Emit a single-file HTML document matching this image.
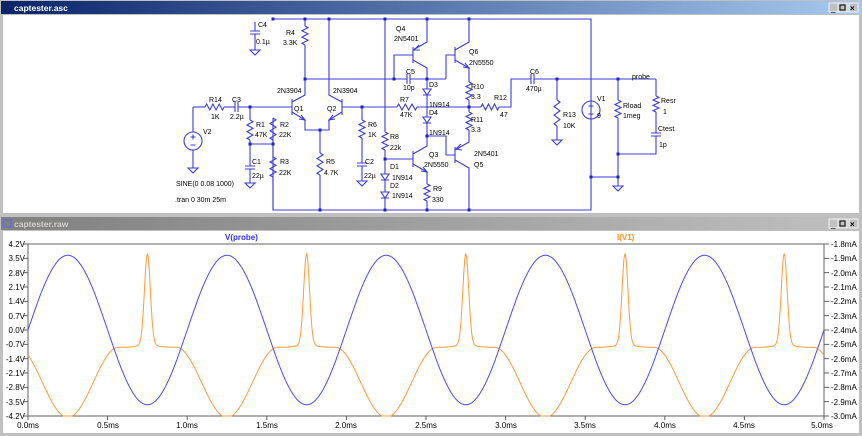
<!DOCTYPE html>
<html><head><meta charset="utf-8">
<style>
html,body{margin:0;padding:0;background:#c0c0c0;width:862px;height:436px;overflow:hidden}
svg{display:block}
text{font-family:"Liberation Sans",sans-serif}
</style></head><body>
<svg id="s" width="862" height="436" xmlns="http://www.w3.org/2000/svg">
<defs>
<linearGradient id="tb1" x1="0" x2="1"><stop offset="0" stop-color="#0a246a"/><stop offset="1" stop-color="#a6caf0"/></linearGradient>
<linearGradient id="tb2" x1="0" x2="1"><stop offset="0" stop-color="#808080"/><stop offset="1" stop-color="#c0c0c0"/></linearGradient>
</defs>
<rect x="0" y="0" width="862" height="436" fill="#c0c0c0"/>
<rect x="1" y="1" width="860" height="13" fill="url(#tb1)"/>
<text x="14" y="11" font-size="8.5" font-weight="bold" fill="#fff">captester.asc</text>
<rect x="3" y="15" width="856" height="198" fill="#fff"/>
<g fill="#c0c0c0" stroke="#fff" stroke-width="0.8"><rect x="829" y="3" width="9" height="9"/><rect x="838" y="3" width="9" height="9"/><rect x="849" y="3" width="9" height="9"/></g>
<text x="831" y="11" font-size="8" fill="#000">_</text><rect x="840" y="5" width="5" height="5" fill="none" stroke="#000" stroke-width="1"/><text x="850" y="11" font-size="8" font-weight="bold" fill="#000">×</text>
<rect x="1" y="217" width="860" height="13" fill="url(#tb2)"/>
<text x="14" y="227" font-size="8.5" font-weight="bold" fill="#d4d0c8">captester.raw</text>
<rect x="3" y="220" width="8" height="7" fill="none" stroke="#6060ff"/>
<g fill="#c0c0c0" stroke="#fff" stroke-width="0.8"><rect x="829" y="219" width="9" height="9"/><rect x="838" y="219" width="9" height="9"/><rect x="849" y="219" width="9" height="9"/></g>
<text x="831" y="227" font-size="8" fill="#000">_</text><rect x="840" y="221" width="5" height="5" fill="none" stroke="#000" stroke-width="1"/><text x="850" y="227" font-size="8" font-weight="bold" fill="#000">×</text>
<rect x="3" y="231" width="856" height="202" fill="#fff"/>
<g id="sch" stroke="#3c3cdc" stroke-width="1.1" fill="none"></g>
<g id="dots" fill="#2020d0"></g>
<g font-size="7" fill="#000">
<text x="258" y="27">C4</text><text x="256" y="44">0.1µ</text>
<text x="286" y="35">R4</text><text x="283" y="45">3.3K</text>
<text x="277" y="93">2N3904</text><text x="333" y="93">2N3904</text>
<text x="294" y="111">Q1</text><text x="327" y="111">Q2</text>
<text x="209" y="102">R14</text><text x="211" y="119">1K</text>
<text x="232" y="102">C3</text><text x="230" y="119">2.2µ</text>
<text x="203" y="134">V2</text>
<text x="256" y="127">R1</text><text x="255" y="137">47K</text>
<text x="280" y="127">R2</text><text x="279" y="137">22K</text>
<text x="252" y="164">C1</text><text x="252" y="178">22µ</text>
<text x="280" y="164">R3</text><text x="279" y="175">22K</text>
<text x="326" y="164">R5</text><text x="324" y="175">4.7K</text>
<text x="368" y="127">R6</text><text x="368" y="137">1K</text>
<text x="365" y="164">C2</text><text x="364" y="178">22µ</text>
<text x="176" y="186">SINE(0 0.08 1000)</text>
<text x="175" y="202">.tran 0 30m 25m</text>
<text x="396" y="31">Q4</text><text x="394" y="41">2N5401</text>
<text x="406" y="74">C5</text><text x="403" y="90">10p</text>
<text x="400" y="102">R7</text><text x="400" y="117">47K</text>
<text x="390" y="139">R8</text><text x="390" y="150">22k</text>
<text x="390" y="169">D1</text><text x="392" y="180">1N914</text>
<text x="390" y="188">D2</text><text x="392" y="198">1N914</text>
<text x="429" y="87">D3</text><text x="429" y="107">1N914</text>
<text x="429" y="115">D4</text><text x="429" y="135">1N914</text>
<text x="429" y="157">Q3</text><text x="424" y="167">2N5550</text>
<text x="433" y="191">R9</text><text x="432" y="202">330</text>
<text x="469" y="54">Q6</text><text x="469" y="65">2N5550</text>
<text x="471" y="89">R10</text><text x="471" y="99">3.3</text>
<text x="494" y="100">R12</text><text x="500" y="117">47</text>
<text x="471" y="122">R11</text><text x="471" y="132">3.3</text>
<text x="474" y="156">2N5401</text><text x="474" y="167">Q5</text>
<text x="530" y="74">C6</text><text x="526" y="91">470µ</text>
<text x="563" y="117">R13</text><text x="563" y="128">10K</text>
<text x="597" y="101">V1</text><text x="597" y="118">9</text>
<text x="623" y="108">Rload</text><text x="623" y="118">1meg</text>
<text x="661" y="103">Resr</text><text x="663" y="114">1</text>
<text x="658" y="131">Ctest</text><text x="659" y="147">1p</text>
<text x="632" y="79">probe</text>
</g>
<rect x="28" y="244" width="796" height="172" fill="none" stroke="#606060" stroke-width="1"/>
<g id="ticks" stroke="#606060" stroke-width="1"></g>
<text x="225" y="240" font-size="8" font-weight="bold" fill="#3030ff">V(probe)</text>
<text x="617" y="240" font-size="8" font-weight="bold" fill="#ff8c1a">I(V1)</text>
<g font-size="8" fill="#000" text-anchor="end">
<text x="25" y="247">4.2V</text><text x="25" y="261">3.5V</text><text x="25" y="276">2.8V</text><text x="25" y="290">2.1V</text><text x="25" y="304">1.4V</text><text x="25" y="319">0.7V</text><text x="25" y="333">0.0V</text><text x="25" y="347">-0.7V</text><text x="25" y="362">-1.4V</text><text x="25" y="376">-2.1V</text><text x="25" y="390">-2.8V</text><text x="25" y="405">-3.5V</text><text x="25" y="419">-4.2V</text>
</g>
<g font-size="8" fill="#000">
<text x="831" y="247">-1.8mA</text><text x="831" y="261">-1.9mA</text><text x="831" y="276">-2.0mA</text><text x="831" y="290">-2.1mA</text><text x="831" y="304">-2.2mA</text><text x="831" y="319">-2.3mA</text><text x="831" y="333">-2.4mA</text><text x="831" y="347">-2.5mA</text><text x="831" y="362">-2.6mA</text><text x="831" y="376">-2.7mA</text><text x="831" y="390">-2.8mA</text><text x="831" y="405">-2.9mA</text><text x="831" y="419">-3.0mA</text>
</g>
<g font-size="8" fill="#000" text-anchor="middle">
<text x="28" y="428">0.0ms</text><text x="108" y="428">0.5ms</text><text x="187" y="428">1.0ms</text><text x="267" y="428">1.5ms</text><text x="346" y="428">2.0ms</text><text x="426" y="428">2.5ms</text><text x="506" y="428">3.0ms</text><text x="585" y="428">3.5ms</text><text x="665" y="428">4.0ms</text><text x="744" y="428">4.5ms</text><text x="822" y="428">5.0ms</text>
</g>
<path id="orange" fill="none" stroke="#ff9a3a" stroke-width="1"/>
<path id="blue" fill="none" stroke="#4a4aff" stroke-width="1"/>
</svg>
<script>
var NS="http://www.w3.org/2000/svg";
var g=document.getElementById("sch"),dg=document.getElementById("dots");
function P(d){var e=document.createElementNS(NS,"path");e.setAttribute("d",d);g.appendChild(e);}
function L(pts){P("M"+pts.join(" L"));}
function RV(x,y1,y2){var d="M"+x+","+y1,n=6,h=(y2-y1)/n;for(var i=0;i<n;i++){d+=" L"+(x+(i%2?-3:3))+","+(y1+h*(i+0.5));}d+=" L"+x+","+y2;P(d);}
function RH(y,x1,x2){var d="M"+x1+","+y,n=6,h=(x2-x1)/n;for(var i=0;i<n;i++){d+=" L"+(x1+h*(i+0.5))+","+(y+(i%2?3:-3));}d+=" L"+x2+","+y;P(d);}
function CV(x,y){P("M"+(x-5)+","+y+" H"+(x+5)+" M"+(x-5)+","+(y+3)+" H"+(x+5));}
function CH(x,y){P("M"+x+","+(y-5)+" V"+(y+5)+" M"+(x+3)+","+(y-5)+" V"+(y+5));}
function GND(x,y){P("M"+(x-5)+","+y+" H"+(x+5)+" L"+x+","+(y+5)+" Z");}
function D(x,y){P("M"+(x-4)+","+y+" H"+(x+4)+" L"+x+","+(y+6)+" Z M"+(x-4)+","+(y+6)+" H"+(x+4));}
function dot(x,y){var c=document.createElementNS(NS,"rect");c.setAttribute("x",x-1.5);c.setAttribute("y",y-1.5);c.setAttribute("width",3);c.setAttribute("height",3);dg.appendChild(c);}
function V(x,y){var c=document.createElementNS(NS,"circle");c.setAttribute("cx",x);c.setAttribute("cy",y);c.setAttribute("r",9);g.appendChild(c);P("M"+(x-2.5)+","+(y-4)+" H"+(x+2.5)+" M"+x+","+(y-6.5)+" V"+(y-1.5)+" M"+(x-2.5)+","+(y+4)+" H"+(x+2.5));}
L(["273,19","591,19","591,210","273,210","273,118"]);RV(273,118,140);L(["273,140","273,157"]);RV(273,157,177);L(["273,177","273,210"]);
L(["255,22","255,31"]);CV(255,31);L(["255,34","255,50"]);GND(255,50);
L(["305,19","305,26"]);RV(305,26,45);L(["305,45","305,79","407,79"]);CH(407,79);L(["410,79","446,79"]);
L(["193,107","205,107"]);RH(107,205,224);L(["224,107","235,107"]);CH(235,107);L(["238,107","292,107"]);
L(["193,107","193,132"]);V(193,141);L(["193,150","193,168"]);GND(193,168);
L(["250,107","250,120"]);RV(250,120,140);L(["250,140","250,144","273,144"]);L(["250,144","250,166"]);CV(250,166);L(["250,169","250,183"]);GND(250,183);
L(["292,99","292,115"]);L(["292,102","305,95","305,79"]);L(["292,112","305,120","305,130","329,130","329,120","342,112"]);
P("M301,115 L305,120 L299,119");
L(["342,99","342,115"]);L(["342,102","329,95","329,19"]);P("M333,115 L329,120 L335,119");
L(["342,107","397,107"]);RH(107,397,417);L(["417,107","481,107"]);RH(107,481,499);L(["499,107","511,107","511,79","531,79"]);CH(531,79);L(["534,79","656,79"]);
L(["320,130","320,153"]);RV(320,153,175);L(["320,175","320,210"]);
L(["362,107","362,120"]);RV(362,120,138);L(["362,138","362,163"]);CV(362,163);L(["362,166","362,181"]);GND(362,181);
L(["385,19","385,132"]);RV(385,132,150);L(["385,150","385,174"]);D(385,174);L(["385,180","385,192"]);D(385,192);L(["385,198","385,210"]);
L(["385,159","413,159"]);L(["413,151","413,167"]);L(["413,154","427,146","427,136"]);L(["413,164","427,172","427,184"]);P("M423,167 L427,172 L421,171");RV(427,184,201);L(["427,201","427,210"]);
L(["427,79","427,89"]);D(427,89);L(["427,95","427,117"]);D(427,117);L(["427,123","427,136","446,136","446,155","455,155"]);
L(["394,79","394,55","413,55"]);L(["413,47","413,63"]);L(["413,50","427,42","427,19"]);L(["413,60","427,68","427,79"]);P("M419,45 L414,50 L420,50");
L(["446,79","446,55","455,55"]);L(["455,47","455,63"]);L(["455,50","469,42","469,19"]);L(["455,60","469,68","469,82"]);P("M465,63 L469,68 L463,67");
RV(469,82,100);L(["469,100","469,112"]);RV(469,112,130);L(["469,130","469,142","455,150"]);
L(["455,147","455,163"]);L(["455,160","469,168","469,210"]);P("M461,144 L456,149 L462,150");
L(["557,79","557,100"]);RV(557,100,126);L(["557,126","557,140"]);GND(557,140);
V(591,110);
L(["591,177","618,177"]);
L(["618,79","618,100"]);RV(618,100,118);L(["618,118","618,186"]);GND(618,186);
L(["656,79","656,96"]);RV(656,96,112);L(["656,112","656,133"]);CV(656,133);L(["656,136","656,154","618,154"]);
[[273,19],[305,19],[329,19],[385,19],[427,19],[469,19],[320,210],[385,210],[427,210],[469,210],[305,79],[394,79],[427,79],[250,107],[362,107],[250,144],[273,144],[320,130],[385,159],[427,136],[469,107],[557,79],[618,79],[618,154],[618,177],[591,177]].forEach(function(p){dot(p[0],p[1]);});
var tg=document.getElementById("ticks"),td="";
for(var i=0;i<13;i++){var y=244+i*172/12;td+="M24,"+y+" H28 M824,"+y+" H829 ";}
for(var i=0;i<11;i++){var x=28+i*79.6;td+="M"+x+",416 V420 ";}
var te=document.createElementNS(NS,"path");te.setAttribute("d",td);tg.appendChild(te);
var b="",o="";
for(var k=0;k<=1600;k++){var t=k*5/1600,x=28+t*159.2;
var v=3.65*Math.sin(2*Math.PI*t);var yb=330-v*20.48;
var p=t-Math.floor(t);var dd=p-0.25;if(dd>0.5)dd-=1;
var gg=0;if(Math.abs(dd)<0.32){var c=Math.cos(Math.PI*dd/0.64);gg=Math.min(1,1.02*c*c);}
var sd=p-0.75;var I=-2.52-0.48*gg+0.63*Math.exp(-Math.pow(sd/0.026,2))+0.02*Math.exp(-Math.pow(sd/0.07,2));
var yo=244+(-1.8-I)/1.2*172;
b+=(k?"L":"M")+x.toFixed(1)+","+yb.toFixed(1);o+=(k?"L":"M")+x.toFixed(1)+","+yo.toFixed(1);}
document.getElementById("blue").setAttribute("d",b);document.getElementById("orange").setAttribute("d",o);
</script>
</body></html>
